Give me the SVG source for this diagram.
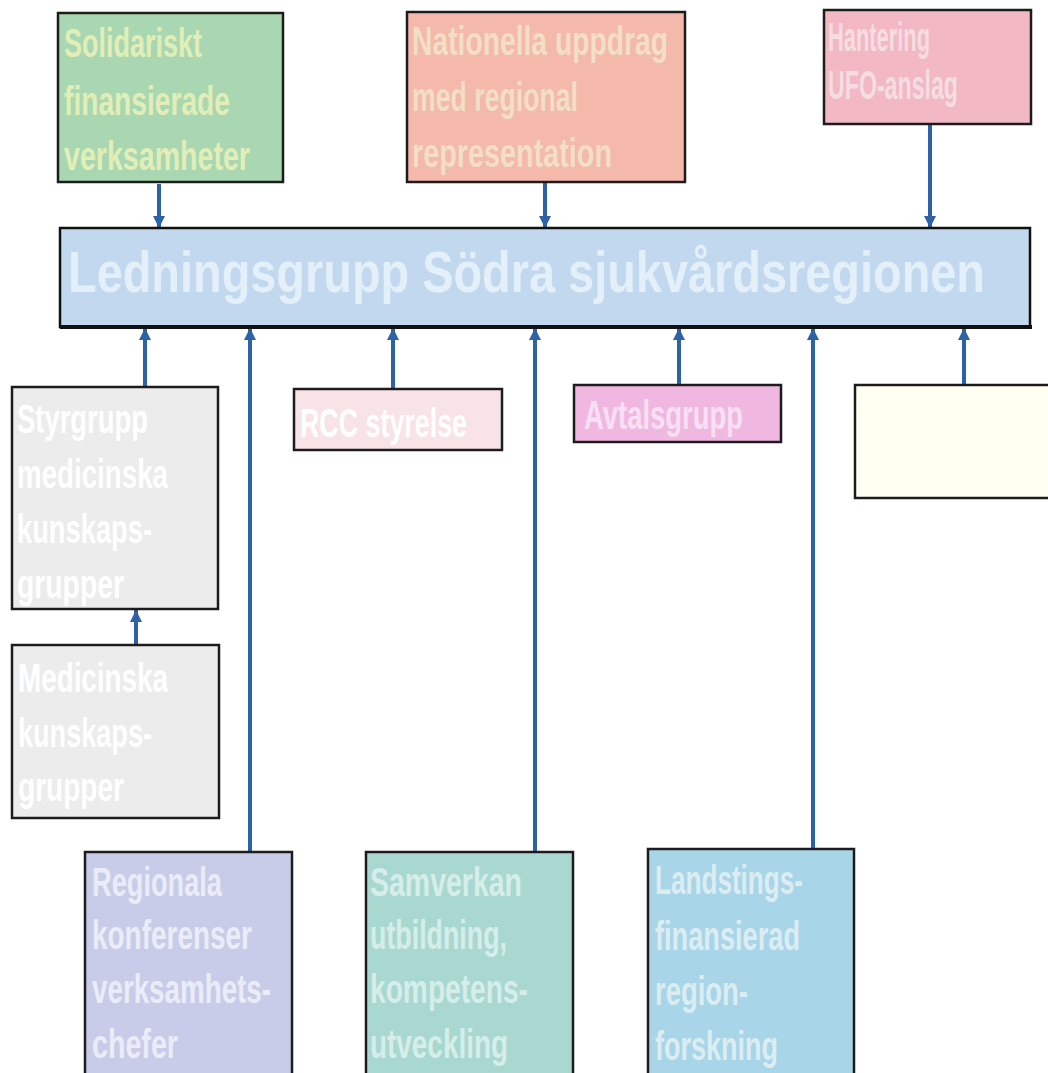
<svg xmlns="http://www.w3.org/2000/svg" width="1048" height="1073" viewBox="0 0 1048 1073">
<defs>
<style>
.box{stroke:#1c1c1c;stroke-width:2.5}
.t{font-family:"Liberation Sans Narrow","Liberation Sans",Arial,sans-serif;font-weight:bold;font-size:40px}
.c{stroke:#2d62a6;stroke-width:4;fill:none}
</style>
<marker id="ah" markerUnits="userSpaceOnUse" markerWidth="14" markerHeight="12" refX="12" refY="6" orient="auto">
<path d="M0,0 L12,6 L0,12 z" fill="#2d62a6"/>
</marker>
</defs>
<rect width="1048" height="1073" fill="#ffffff"/>

<g id="connectors">
<line class="c" x1="159" y1="184" x2="159" y2="228" marker-end="url(#ah)"/>
<line class="c" x1="545" y1="183" x2="545" y2="228" marker-end="url(#ah)"/>
<line class="c" x1="930" y1="125" x2="930" y2="228" marker-end="url(#ah)"/>
<line class="c" x1="145" y1="387" x2="145" y2="328" marker-end="url(#ah)"/>
<line class="c" x1="250" y1="852" x2="250" y2="328" marker-end="url(#ah)"/>
<line class="c" x1="393" y1="389" x2="393" y2="328" marker-end="url(#ah)"/>
<line class="c" x1="535" y1="852" x2="535" y2="328" marker-end="url(#ah)"/>
<line class="c" x1="679" y1="385" x2="679" y2="328" marker-end="url(#ah)"/>
<line class="c" x1="813" y1="850" x2="813" y2="328" marker-end="url(#ah)"/>
<line class="c" x1="964" y1="385" x2="964" y2="328" marker-end="url(#ah)"/>
<line class="c" x1="136" y1="645" x2="136" y2="610" marker-end="url(#ah)"/>
</g>

<g id="solidariskt">
<rect class="box" x="58" y="13" width="225" height="169" fill="#a9d7b1"/>
<g class="t" fill="#e2eeb8">
<text x="64" y="57" textLength="138" lengthAdjust="spacingAndGlyphs">Solidariskt</text>
<text x="64" y="115" textLength="166" lengthAdjust="spacingAndGlyphs">finansierade</text>
<text x="64" y="170" textLength="186" lengthAdjust="spacingAndGlyphs">verksamheter</text>
</g>
</g>

<g id="nationella">
<rect class="box" x="407" y="12" width="278" height="170" fill="#f4b9aa"/>
<g class="t" fill="#f3dec6">
<text x="412" y="55" textLength="256" lengthAdjust="spacingAndGlyphs">Nationella uppdrag</text>
<text x="412" y="111" textLength="166" lengthAdjust="spacingAndGlyphs">med regional</text>
<text x="412" y="167" textLength="200" lengthAdjust="spacingAndGlyphs">representation</text>
</g>
</g>

<g id="hantering">
<rect class="box" x="824" y="10" width="207" height="114" fill="#f2b8c4"/>
<g class="t" fill="#f6dde2">
<text x="828" y="51" textLength="102" lengthAdjust="spacingAndGlyphs">Hantering</text>
<text transform="translate(828,99) scale(1,1.18)" x="0" y="0" font-size="34" textLength="130" lengthAdjust="spacingAndGlyphs">UFO-anslag</text>
</g>
</g>

<g id="ledningsgrupp">
<rect x="60" y="228" width="970" height="99" fill="#c2d8ee" stroke="#111" stroke-width="2.5"/>
<line x1="60" y1="327" x2="1032" y2="327" stroke="#111" stroke-width="4"/>
<text transform="translate(68,292) scale(1,1.26)" x="0" y="0" font-family="'Liberation Sans',Arial,sans-serif" font-weight="bold" font-size="46" fill="#e3eff9" textLength="917" lengthAdjust="spacingAndGlyphs">Ledningsgrupp Södra sjukvårdsregionen</text>
</g>

<g id="styrgrupp">
<rect class="box" x="12" y="387" width="206" height="222" fill="#ececec"/>
<g class="t" fill="#ffffff">
<text x="17" y="433" textLength="131" lengthAdjust="spacingAndGlyphs">Styrgrupp</text>
<text x="17" y="488" textLength="151" lengthAdjust="spacingAndGlyphs">medicinska</text>
<text x="17" y="543" textLength="135" lengthAdjust="spacingAndGlyphs">kunskaps-</text>
<text x="17" y="598" textLength="107" lengthAdjust="spacingAndGlyphs">grupper</text>
</g>
</g>

<g id="medicinska">
<rect class="box" x="12" y="645" width="207" height="173" fill="#ececec"/>
<g class="t" fill="#ffffff">
<text x="18" y="692" textLength="150" lengthAdjust="spacingAndGlyphs">Medicinska</text>
<text x="18" y="747" textLength="134" lengthAdjust="spacingAndGlyphs">kunskaps-</text>
<text x="18" y="801" textLength="106" lengthAdjust="spacingAndGlyphs">grupper</text>
</g>
</g>

<g id="rcc">
<rect class="box" x="294" y="389" width="208" height="61" fill="#f8e3e7"/>
<text class="t" x="300" y="437" fill="#ffffff" textLength="167" lengthAdjust="spacingAndGlyphs">RCC styrelse</text>
</g>

<g id="avtalsgrupp">
<rect class="box" x="574" y="385" width="207" height="57" fill="#f0b8e0"/>
<text class="t" x="584" y="429" fill="#f8e0f4" textLength="159" lengthAdjust="spacingAndGlyphs">Avtalsgrupp</text>
</g>

<g id="gul">
<rect class="box" x="855" y="385" width="200" height="113" fill="#fffff2"/>
</g>

<g id="regionala">
<rect class="box" x="85" y="852" width="207" height="230" fill="#c9cce8"/>
<g class="t" fill="#eaecf8">
<text x="92" y="896" textLength="130" lengthAdjust="spacingAndGlyphs">Regionala</text>
<text x="92" y="949" textLength="160" lengthAdjust="spacingAndGlyphs">konferenser</text>
<text x="92" y="1003" textLength="179" lengthAdjust="spacingAndGlyphs">verksamhets-</text>
<text x="92" y="1058" textLength="86" lengthAdjust="spacingAndGlyphs">chefer</text>
</g>
</g>

<g id="samverkan">
<rect class="box" x="366" y="852" width="207" height="230" fill="#a9d8d1"/>
<g class="t" fill="#d6eeea">
<text x="370" y="896" textLength="152" lengthAdjust="spacingAndGlyphs">Samverkan</text>
<text x="370" y="949" textLength="137" lengthAdjust="spacingAndGlyphs">utbildning,</text>
<text x="370" y="1003" textLength="158" lengthAdjust="spacingAndGlyphs">kompetens-</text>
<text x="370" y="1058" textLength="138" lengthAdjust="spacingAndGlyphs">utveckling</text>
</g>
</g>

<g id="landstings">
<rect class="box" x="648" y="849" width="206" height="233" fill="#a9d5e9"/>
<g class="t" fill="#dcedf2">
<text x="655" y="894" textLength="148" lengthAdjust="spacingAndGlyphs">Landstings-</text>
<text x="655" y="950" textLength="145" lengthAdjust="spacingAndGlyphs">finansierad</text>
<text x="655" y="1005" textLength="93" lengthAdjust="spacingAndGlyphs">region-</text>
<text x="655" y="1060" textLength="123" lengthAdjust="spacingAndGlyphs">forskning</text>
</g>
</g>
</svg>
